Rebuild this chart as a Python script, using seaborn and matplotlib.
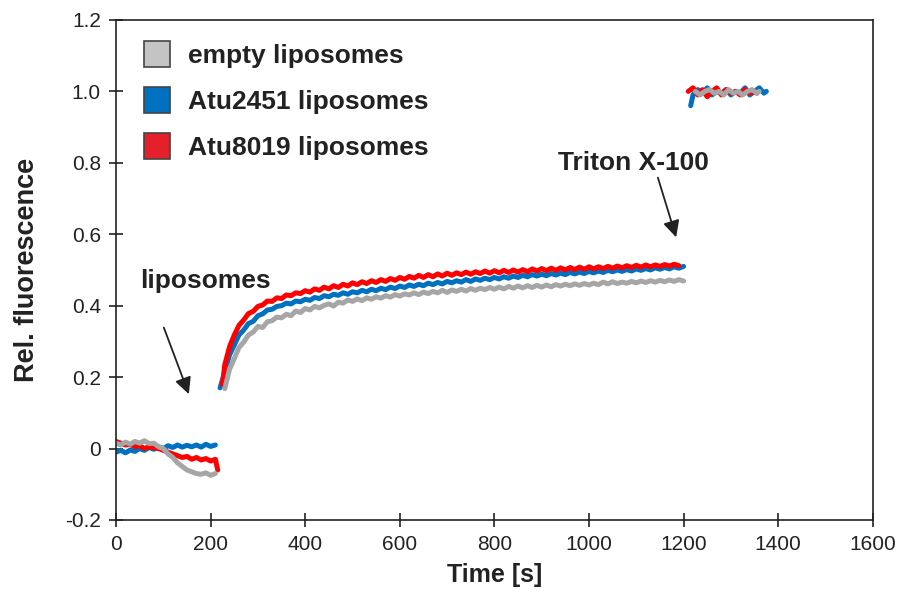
import numpy as np
import pandas as pd
import seaborn as sns
import matplotlib.pyplot as plt
from matplotlib.patches import Patch

# ---- data ----
t_base = [0, 10, 20, 30, 40, 50, 60, 70, 80, 90, 100, 110, 120, 130, 140, 150, 160, 170, 180, 190, 200, 210]
empty_base = [0.015, 0.01, 0.018, 0.012, 0.02, 0.015, 0.022, 0.014, 0.015, 0.005, 0.0, -0.015, -0.025, -0.04,
              -0.05, -0.06, -0.065, -0.07, -0.072, -0.068, -0.075, -0.07]
atu2451_base = [-0.01, -0.005, -0.012, -0.004, -0.008, 0.0, -0.005, 0.003, -0.002, 0.005, 0.0, 0.008, 0.003,
                0.01, 0.004, 0.009, 0.005, 0.01, 0.004, 0.012, 0.006, 0.01]
t_base_red = t_base + [215]
atu8019_base = [0.02, 0.015, 0.01, 0.012, 0.005, 0.008, 0.0, 0.005, 0.002, 0.0, -0.005, -0.01, -0.015, -0.02,
                -0.025, -0.022, -0.03, -0.025, -0.032, -0.028, -0.035, -0.03, -0.06]

t_rise_empty = list(range(230, 1210, 10))
empty_rise = [0.168, 0.222, 0.252, 0.283, 0.298, 0.318, 0.326, 0.342, 0.339, 0.355, 0.358, 0.368, 0.366, 0.376,
              0.372, 0.385, 0.381, 0.392,
              0.388, 0.398, 0.394, 0.401, 0.405, 0.399, 0.41, 0.407, 0.416, 0.412,
              0.419, 0.414, 0.422, 0.418, 0.425, 0.421, 0.428, 0.424, 0.431, 0.427,
              0.433, 0.43, 0.436, 0.431, 0.438, 0.434, 0.44, 0.436, 0.443, 0.437,
              0.444, 0.44, 0.446, 0.441, 0.448, 0.443, 0.449, 0.445, 0.451, 0.446,
              0.452, 0.447, 0.454, 0.449, 0.455, 0.45, 0.456, 0.451, 0.457, 0.452,
              0.458, 0.453, 0.459, 0.455, 0.46, 0.456, 0.461, 0.457, 0.462, 0.458,
              0.463, 0.459, 0.466, 0.461, 0.467, 0.462, 0.466, 0.463, 0.468, 0.464,
              0.469, 0.465, 0.47, 0.466, 0.471, 0.467, 0.472, 0.468, 0.473, 0.469]

t_rise_blue = list(range(220, 1210, 10))
atu2451_rise = [0.17, 0.215, 0.262, 0.29, 0.318, 0.332, 0.35, 0.356, 0.372, 0.377, 0.388, 0.39, 0.398, 0.40,
                0.407, 0.405, 0.413, 0.411, 0.418,
                0.415, 0.423, 0.42, 0.428, 0.425, 0.432, 0.429, 0.436, 0.432, 0.439,
                0.436, 0.443, 0.439, 0.446, 0.442, 0.449, 0.445, 0.452, 0.448, 0.455,
                0.451, 0.458, 0.454, 0.46, 0.456, 0.463, 0.459, 0.465, 0.461, 0.468,
                0.464, 0.47, 0.466, 0.473, 0.468, 0.475, 0.471, 0.477, 0.473, 0.479,
                0.475, 0.481, 0.477, 0.483, 0.479, 0.485, 0.481, 0.487, 0.483, 0.488,
                0.484, 0.49, 0.486, 0.491, 0.487, 0.493, 0.489, 0.494, 0.49, 0.496,
                0.492, 0.497, 0.493, 0.499, 0.495, 0.5, 0.496, 0.501, 0.497, 0.503,
                0.499, 0.504, 0.5, 0.506, 0.502, 0.507, 0.503, 0.509, 0.505, 0.51]

t_rise_red = [225] + list(range(230, 1200, 10))
atu8019_rise = [0.18, 0.235, 0.285, 0.318, 0.345, 0.36, 0.378, 0.384, 0.398, 0.402, 0.413, 0.412, 0.422, 0.42,
                0.43, 0.428, 0.436, 0.434, 0.442,
                0.438, 0.447, 0.443, 0.452, 0.447, 0.456, 0.451, 0.46, 0.455, 0.464,
                0.459, 0.467, 0.462, 0.47, 0.465, 0.473, 0.468, 0.476, 0.471, 0.479,
                0.474, 0.482, 0.477, 0.485, 0.479, 0.487, 0.481, 0.489, 0.483, 0.491,
                0.485, 0.492, 0.487, 0.494, 0.488, 0.495, 0.49, 0.497, 0.491, 0.498,
                0.492, 0.499, 0.493, 0.5, 0.494, 0.501, 0.495, 0.503, 0.497, 0.504,
                0.498, 0.505, 0.499, 0.506, 0.5, 0.507, 0.501, 0.508, 0.502, 0.509,
                0.503, 0.509, 0.504, 0.51, 0.505, 0.511, 0.506, 0.512, 0.507, 0.513,
                0.508, 0.514, 0.509, 0.514, 0.51, 0.515, 0.511, 0.516, 0.512]

t_top_blue = [1215, 1220, 1230, 1240, 1250, 1260, 1270, 1280, 1290, 1300, 1310, 1320, 1330, 1340, 1350, 1360, 1370, 1375]
atu2451_top = [0.96, 0.99, 1.005, 0.995, 1.01, 0.99, 1.0, 0.995, 1.005, 0.99, 1.0, 0.995, 1.01, 0.99, 1.0, 1.01, 0.995, 1.0]
t_top_red = [1210, 1220, 1230, 1240, 1250, 1260, 1270, 1280, 1290, 1300, 1310, 1320, 1330, 1340, 1350, 1355]
atu8019_top = [1.0, 1.01, 0.99, 1.005, 0.985, 1.0, 1.01, 0.99, 1.005, 0.995, 1.0, 0.99, 1.005, 0.995, 1.0, 0.995]
t_top_empty = [1225, 1235, 1245, 1255, 1265, 1275, 1285, 1295, 1305, 1315, 1325, 1335, 1345, 1355, 1360]
empty_top = [1.0, 0.99, 1.0, 1.005, 0.995, 1.0, 0.99, 1.005, 0.995, 1.0, 0.99, 1.0, 1.005, 0.995, 1.0]

labels = ["empty liposomes", "Atu2451 liposomes", "Atu8019 liposomes"]
line_colors = ["#a6a6a6", "#0070c0", "#ff0000"]
legend_colors = ["#c4c4c4", "#0070c0", "#e4202a"]
xticks = [0, 200, 400, 600, 800, 1000, 1200, 1400, 1600]
yticks = [-0.2, 0, 0.2, 0.4, 0.6, 0.8, 1.0, 1.2]
yticklabels = ["-0.2", "0", "0.2", "0.4", "0.6", "0.8", "1.0", "1.2"]

sns.set_style("white")
plt.rcParams['font.family'] = ['Liberation Sans', 'DejaVu Sans']
ink = "#222222"

fig = plt.figure(figsize=(9.03, 6.01), dpi=100)
ax = fig.add_axes([0.1285, 0.1348, 0.838, 0.832])

segments = {
    0: [(t_base, empty_base), (t_rise_empty, empty_rise), (t_top_empty, empty_top)],
    1: [(t_base, atu2451_base), (t_rise_blue, atu2451_rise), (t_top_blue, atu2451_top)],
    2: [(t_base_red, atu8019_base), (t_rise_red, atu8019_rise), (t_top_red, atu8019_top)],
}
for i in [1, 2, 0]:
    for tt, yy in segments[i]:
        df = pd.DataFrame({"t": tt, "y": yy})
        sns.lineplot(data=df, x="t", y="y", ax=ax, color=line_colors[i], lw=3.6, estimator=None)

ax.set_xlim(0, 1600)
ax.set_ylim(-0.2, 1.2)
ax.set_xticks(xticks)
ax.set_xticklabels([str(x) for x in xticks], fontsize=15, color=ink)
ax.set_yticks(yticks)
ax.set_yticklabels(yticklabels, fontsize=15, color=ink)
ax.tick_params(bottom=True, left=True, direction='inout', length=10, width=1.2, color=ink, pad=6)
for s in ax.spines.values():
    s.set_color(ink)
    s.set_linewidth(1.2)

ax.set_xlabel("Time [s]", fontsize=18, fontweight='bold', color=ink, labelpad=6)
ax.set_ylabel("Rel. fluorescence", fontsize=19.5, fontweight='bold', color=ink, labelpad=18)

handles = [Patch(facecolor=c, edgecolor="#444444", lw=1.2) for c in legend_colors]
leg = ax.legend(handles, labels, loc='upper left', frameon=False, bbox_to_anchor=(0.005, 1.005),
                handlelength=1.0, handleheight=1.15, handletextpad=0.7, labelspacing=0.72,
                prop={'size': 19, 'weight': 'bold'})
for txt in leg.get_texts():
    txt.set_color(ink)

ax.annotate("", xy=(156, 0.145), xytext=(99, 0.346),
            arrowprops=dict(arrowstyle='-|>', color=ink, lw=1.3, mutation_scale=25))
ax.text(190, 0.47, "liposomes", ha='center', va='center', fontsize=19, fontweight='bold', color=ink)
ax.annotate("", xy=(1186, 0.584), xytext=(1144, 0.766),
            arrowprops=dict(arrowstyle='-|>', color=ink, lw=1.3, mutation_scale=25))
ax.text(1093, 0.80, "Triton X-100", ha='center', va='center', fontsize=19, fontweight='bold', color=ink)

fig.savefig("out.png", dpi=100)
